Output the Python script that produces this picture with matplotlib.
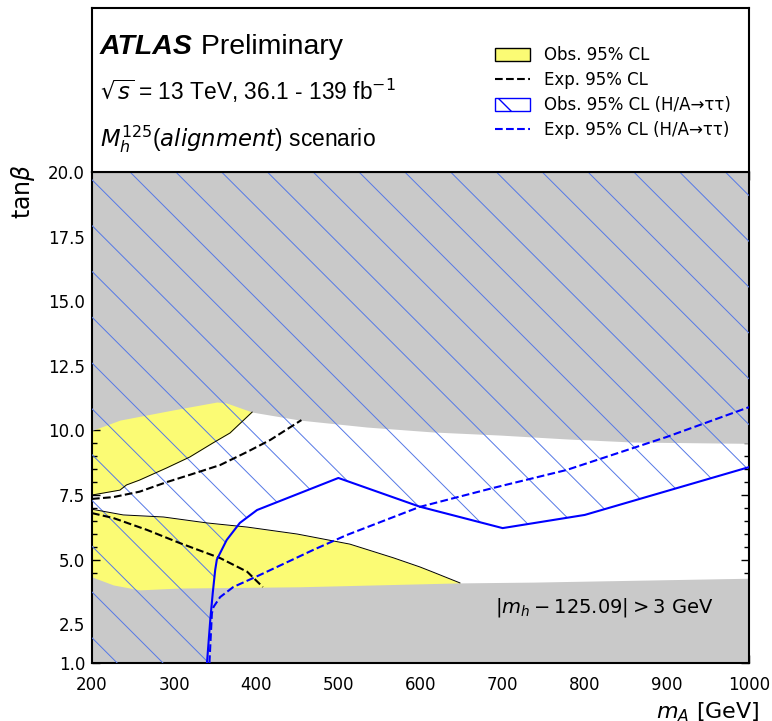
import numpy as np
import matplotlib
matplotlib.use("Agg")
import matplotlib.pyplot as plt
from matplotlib.patches import Polygon, Patch
from matplotlib.lines import Line2D
from matplotlib.ticker import MultipleLocator, FixedLocator

# mh constraint (grey): upper band lower edge, lower band upper edge
grey_up_x = [200, 234, 300, 352, 364, 395, 453, 535, 615, 697, 778, 859, 1000]
grey_up_y = [10.0, 10.4, 10.8, 11.1, 11.06, 10.71, 10.40, 10.13, 9.94, 9.82, 9.67, 9.55, 9.5]
grey_lo_x = [200, 226, 258, 307, 453, 648, 737, 859, 1000]
grey_lo_y = [4.33, 4.02, 3.83, 3.90, 3.95, 4.10, 4.13, 4.20, 4.28]

# observed 95% CL contours (yellow regions)
obs_up_x = [200, 234, 242, 258, 291, 319, 347, 368, 395]
obs_up_y = [7.50, 7.69, 7.89, 8.08, 8.55, 8.97, 9.51, 9.90, 10.71]
obs_lo_x = [200, 238, 287, 340, 389, 450, 514, 567, 599, 615, 648]
obs_lo_y = [6.95, 6.73, 6.65, 6.42, 6.26, 5.99, 5.60, 5.07, 4.72, 4.52, 4.10]

# expected 95% CL contours
exp_up_x = [200, 226, 258, 291, 319, 356, 389, 417, 455]
exp_up_y = [7.35, 7.42, 7.63, 8.00, 8.28, 8.66, 9.17, 9.63, 10.40]
exp_lo_x = [200, 226, 267, 307, 356, 389, 408]
exp_lo_y = [6.80, 6.61, 6.15, 5.64, 5.06, 4.53, 3.94]

# H/A -> tautau limits
tau_obs_x = [340, 344, 347, 350, 352, 364, 380, 401, 500, 599, 700, 800, 1000]
tau_obs_y = [1.0, 2.66, 3.70, 4.60, 5.00, 5.76, 6.42, 6.92, 8.16, 7.05, 6.22, 6.73, 8.58]
tau_exp_x = [343, 346, 348, 356, 372, 404, 469, 510, 599, 688, 778, 900, 1000]
tau_exp_y = [1.0, 2.93, 3.17, 3.55, 3.94, 4.40, 5.37, 5.95, 7.04, 7.77, 8.47, 9.75, 10.90]

yticks = [1.0, 2.5, 5.0, 7.5, 10.0, 12.5, 15.0, 17.5, 20.0]

GREY = "#C9C9C9"
YELLOW = "#FBFB74"
HATCH = "#5578E6"

FW, FH = 772, 721
fig = plt.figure(figsize=(FW / 100, FH / 100), dpi=100)
L, R = 92 / FW, 749 / FW
ax = fig.add_axes([L, 1 - 663 / FH, R - L, (663 - 172) / FH])
top = fig.add_axes([L, 1 - 172 / FH, R - L, (172 - 8) / FH])

ax.set_xlim(200, 1000)
ax.set_ylim(1, 20)

# yellow first so the grey band covers its outer edge
ax.fill_between(obs_up_x, obs_up_y, 12, color=YELLOW, lw=0, zorder=1)
ax.fill_between(obs_lo_x, 3, obs_lo_y, color=YELLOW, lw=0, zorder=1)
ax.fill_between(grey_up_x, grey_up_y, 20, color=GREY, lw=0, zorder=2)
ax.fill_between(grey_lo_x, 1, grey_lo_y, color=GREY, lw=0, zorder=2)

# hatched H/A->tautau exclusion, lines at 45 deg on screen
hatch_poly = Polygon([(200, 1)] + list(zip(tau_obs_x, tau_obs_y)) + [(1000, 20), (200, 20)],
                     closed=True, facecolor="none", edgecolor="none")
ax.add_patch(hatch_poly)
W = (R - L) * FW
H = 663 - 172
for c in np.arange(25.2, W + H, 45.8):
    x0, x1 = max(0, c - H), min(W, c)
    ln, = ax.plot([x0 / W, x1 / W], [(c - x0) / H, (c - x1) / H], transform=ax.transAxes,
                  color=HATCH, lw=0.7, zorder=3)
    ln.set_clip_path(hatch_poly)

ax.plot(obs_up_x, obs_up_y, color="black", lw=0.7, zorder=4)
ax.plot(obs_lo_x, obs_lo_y, color="black", lw=0.7, zorder=4)
ax.plot(exp_up_x, exp_up_y, color="black", ls="--", lw=1.5, zorder=4)
ax.plot(exp_lo_x, exp_lo_y, color="black", ls="--", lw=1.5, zorder=4)
ax.plot(tau_obs_x, tau_obs_y, color="blue", lw=1.5, zorder=5)
ax.plot(tau_exp_x, tau_exp_y, color="blue", ls="--", lw=1.5, zorder=5)

ax.text(956, 2.97, r"$|m_h - 125.09| > 3$ GeV", ha="right", va="baseline", fontsize=14, zorder=6)

# axes styling
ax.xaxis.set_major_locator(MultipleLocator(100))
ax.xaxis.set_minor_locator(MultipleLocator(20))
ax.yaxis.set_major_locator(FixedLocator(yticks))
ax.yaxis.set_minor_locator(MultipleLocator(0.5))
ax.tick_params(which="both", direction="in", top=True, right=True, width=1.0)
ax.tick_params(which="major", length=6, labelsize=12)
ax.tick_params(which="minor", length=3.5)
ax.tick_params(axis="x", pad=9)
ax.tick_params(axis="y", pad=5)
for sp in ax.spines.values():
    sp.set_linewidth(1.5)

ax.set_xlabel(r"$m_A$ [GeV]", fontsize=16, loc="right")
ax.xaxis.set_label_coords((760 - 92) / W, -37 / H)
ax.xaxis.label.set_va("top")
ax.set_ylabel(r"tan$\beta$", fontsize=17, loc="top")
ax.yaxis.set_label_coords((37 - 92) / W, (663 - 164) / H)

# header panel
top.set_xticks([])
top.set_yticks([])
for sp in top.spines.values():
    sp.set_linewidth(1.5)

t = fig.text(100 / FW, 1 - 54 / FH, "ATLAS", fontsize=20.5, fontweight="bold", fontstyle="italic",
             family="Liberation Sans", va="baseline")
top.annotate(" Preliminary", xy=(1, 0), xycoords=t, fontsize=20.5, family="Liberation Sans",
             va="bottom", ha="left")
fig.text(100 / FW, 1 - 100 / FH, r"$\sqrt{s}$ = 13 TeV, 36.1 - 139 fb$^{-1}$", fontsize=16.4,
         family="Liberation Sans", va="baseline")
fig.text(100 / FW, 1 - 146 / FH, r"$M_h^{125}$($alignment$) scenario", fontsize=16.4,
         family="Liberation Sans", va="baseline")

handles = [
    Patch(facecolor=YELLOW, edgecolor="black", lw=1.0),
    Line2D([], [], color="black", ls="--", lw=1.5),
    Patch(facecolor="white", edgecolor="blue", hatch="\\", lw=1.0),
    Line2D([], [], color="blue", ls="--", lw=1.5),
]
labels = ["Obs. 95% CL", "Exp. 95% CL", "Obs. 95% CL (H/A\u2192\u03c4\u03c4)",
          "Exp. 95% CL (H/A\u2192\u03c4\u03c4)"]
fig.legend(handles, labels, loc="upper left", bbox_to_anchor=(495 / FW, 1 - 46 / FH),
           frameon=False, fontsize=12, borderpad=0, borderaxespad=0, handlelength=2.1,
           handleheight=0.8, handletextpad=0.85, labelspacing=0.42)

fig.savefig("out.png", dpi=100)
